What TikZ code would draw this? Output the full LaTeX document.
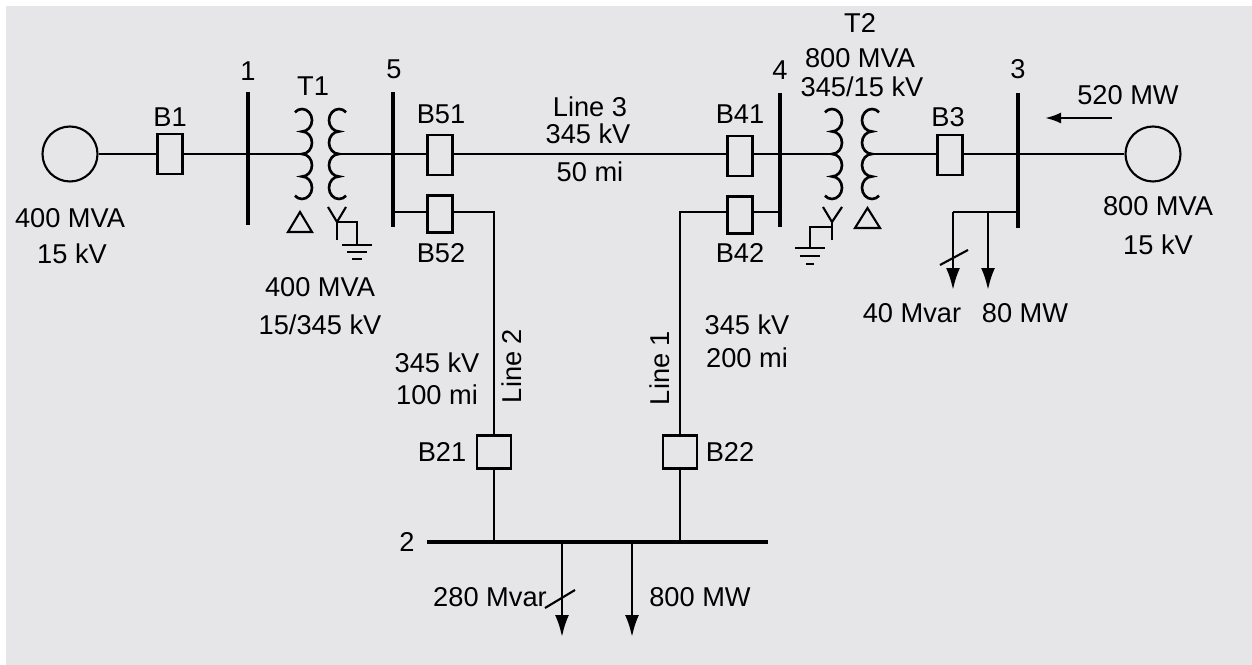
\documentclass[tikz,border=0pt]{standalone}
\usepackage{fontspec}
\setmainfont{Liberation Sans}
\usetikzlibrary{arrows.meta}
\definecolor{bg}{RGB}{230,230,232}
\newcommand\mycoilR[2]{%
  \draw[coil] (#1-7.07,#2+3.3) arc[start angle=135,end angle=-90,x radius=0.2cm,y radius=0.225cm]
    arc[start angle=90,end angle=-90,x radius=0.2cm,y radius=0.225cm]
    arc[start angle=90,end angle=-90,x radius=0.2cm,y radius=0.225cm]
    arc[start angle=90,end angle=-135,x radius=0.2cm,y radius=0.225cm];}
\newcommand\mycoilL[2]{%
  \draw[coil] (#1+7.07,#2+3.3) arc[start angle=45,end angle=270,x radius=0.2cm,y radius=0.225cm]
    arc[start angle=90,end angle=270,x radius=0.2cm,y radius=0.225cm]
    arc[start angle=90,end angle=270,x radius=0.2cm,y radius=0.225cm]
    arc[start angle=90,end angle=315,x radius=0.2cm,y radius=0.225cm];}
\begin{document}
\begin{tikzpicture}[x=0.02cm,y=-0.02cm,
  ln/.style={line width=1.2pt},
  coil/.style={line width=1.5pt},
  busln/.style={line width=1.9pt},
  brk/.style={draw,line width=1.3pt,minimum width=0.5cm,minimum height=0.8cm,inner sep=0pt},
  brkb/.style={draw,line width=1.3pt,minimum width=0.5cm,minimum height=0.74cm,inner sep=0pt},
  brkc/.style={draw,line width=1.3pt,minimum width=0.68cm,minimum height=0.66cm,inner sep=0pt},
  gen/.style={draw,circle,line width=1.2pt,minimum size=1.1cm,inner sep=0pt},
  lbl/.style={font=\fontsize{15.5}{18}\selectfont,inner sep=0pt},
  ld/.style={line width=1.5pt,-{Latex[length=0.44cm,width=0.28cm]}},
  gnd/.style={line width=1.2pt}]
\useasboundingbox (0,0) rectangle (1252,665);
\fill[bg] (6,6) rectangle (1252,665);
% buses
\coordinate (b1t) at (248,92); \coordinate (b1b) at (248,225);
\coordinate (b5t) at (393,92); \coordinate (b5b) at (393,227);
\coordinate (b4t) at (780,93); \coordinate (b4b) at (780,227);
\coordinate (b3t) at (1018,93); \coordinate (b3b) at (1018,228);
\coordinate (b2l) at (427,542); \coordinate (b2r) at (768,542);
\draw[busln] (b1t) -- (b1b);
\draw[busln] (b5t) -- (b5b);
\draw[busln] (b4t) -- (b4b);
\draw[busln] (b3t) -- (b3b);
\draw[busln] (b2l) -- (b2r);
% generators and breakers
\node[gen] (G1) at (70,154) {};
\node[gen] (G2) at (1153,154) {};
\node[brk] (B1) at (170,154) {};
\node[brk] (B51) at (440,155) {};
\node[brkb] (B52) at (440,214) {};
\node[brk] (B41) at (740,156) {};
\node[brkb] (B42) at (740,215) {};
\node[brk] (B3) at (950,155) {};
\node[brkc] (B21) at (494,452) {};
\node[brkc] (B22) at (680,452) {};
% transformers
\coordinate (T1p) at (302,154); \coordinate (T1s) at (339,154);
\coordinate (T2p) at (832,154); \coordinate (T2s) at (872,154);
\mycoilR{302}{109}
\mycoilL{339}{109}
\mycoilR{832}{109}
\mycoilL{872}{109}
% main line
\draw[ln] (G1.east) -- (B1.west);
\draw[ln] (B1.east) -- (T1p);
\draw[ln] (T1s) -- (B51.west |- T1s);
\draw[ln] (B51.east |- T1s) -- (B41.west |- T1s);
\draw[ln] (B41.east |- T1s) -- (T2p);
\draw[ln] (T2s) -- (B3.west |- T2s);
\draw[ln] (B3.east |- T2s) -- (G2.west);
% line 2
\coordinate (b5j) at (393,212); \coordinate (l2c) at (494,212); \coordinate (b2a) at (494,542);
\draw[ln] (b5j) -- (B52.west |- b5j);
\draw[ln] (B52.east |- b5j) -- (l2c) -- (B21.north);
\draw[ln] (B21.south) -- (b2a);
% line 1
\coordinate (b4j) at (780,212); \coordinate (l1c) at (680,212); \coordinate (b2b) at (680,542);
\draw[line width=1.7pt] (b4j) -- (B42.east |- b4j);
\draw[ln] (B42.west |- b4j) -- (l1c) -- (B22.north);
\draw[ln] (B22.south) -- (b2b);
% delta / wye / ground T1
\draw[ln,line join=miter] (288,232) -- (312,232) -- (300,212) -- cycle;
\coordinate (y1j) at (337,222);
\draw[ln] (328,207) -- (y1j) -- (346,207);
\draw[ln] (y1j) -- (337,240);
\coordinate (g1) at (357,245);
\draw[ln] (y1j) -- (357,222) -- (g1);
\draw[gnd] (342,245) -- (372,245); \draw[gnd] (347,252) -- (367,252); \draw[gnd] (352,259) -- (362,259);
% delta / wye / ground T2
\draw[ln,line join=miter] (855,228) -- (880,228) -- (867.5,208) -- cycle;
\coordinate (y2j) at (832,222);
\draw[ln] (823,207) -- (y2j) -- (842,207);
\draw[ln] (y2j) -- (832,240);
\coordinate (g2) at (810,248);
\draw[ln] (832,227) -- (810,227) -- (g2);
\draw[gnd] (795,248) -- (825,248); \draw[gnd] (800,256) -- (820,256); \draw[gnd] (806,264) -- (814,264);
% loads bus 3
\coordinate (b3j) at (1018,212); \coordinate (q3) at (953,212); \coordinate (p3) at (988,212);
\coordinate (q3e) at (953,290); \coordinate (p3e) at (988,290);
\draw[line width=1.5pt] (b3j) -- (q3);
\draw[ld] (q3) -- (q3e);
\draw[ld] (p3) -- (p3e);
\draw[ln] (940,265) -- (968,250);
% loads bus 2
\coordinate (q2) at (562,542); \coordinate (p2) at (632,542);
\coordinate (q2e) at (562,637); \coordinate (p2e) at (632,637);
\draw[ld] (q2) -- (q2e);
\draw[ld] (p2) -- (p2e);
\draw[ln] (545,608) -- (575,590);
% 520 MW arrow
\coordinate (a1) at (1112,118); \coordinate (a2) at (1045,118);
\draw[line width=1.4pt,-{Latex[length=0.32cm,width=0.22cm]}] (a1) -- (a2);
% labels
\node[lbl] (n1) at (248,71) {1};
\node[lbl] (n5) at (394,69) {5};
\node[lbl] (n4) at (780,70) {4};
\node[lbl] (n3) at (1018,69) {3};
\node[lbl] (n2) at (407,542) {2};
\node[lbl] (t1) at (313,86) {T1};
\node[lbl] (lB1) at (170,117) {B1};
\node[lbl] (g1a) at (70,218) {400 MVA};
\node[lbl] (g1b) at (72,254) {15 kV};
\node[lbl] (t1a) at (320,287) {400 MVA};
\node[lbl] (t1b) at (320,325) {15/345 kV};
\node[lbl] (lB51) at (441,114) {B51};
\node[lbl] (lB52) at (441,253) {B52};
\node[lbl] (lB41) at (740,114) {B41};
\node[lbl] (lB42) at (740,253) {B42};
\node[lbl] (l3a) at (590,107) {Line 3};
\node[lbl] (l3b) at (588,134) {345 kV};
\node[lbl] (l3c) at (590,172) {50 mi};
\node[lbl] (t2) at (860,23) {T2};
\node[lbl] (t2a) at (860,58) {800 MVA};
\node[lbl] (t2b) at (862,87) {345/15 kV};
\node[lbl] (lB3) at (948,117) {B3};
\node[lbl] (p520) at (1128,95) {520 MW};
\node[lbl] (g2a) at (1158,206) {800 MVA};
\node[lbl] (g2b) at (1158,245) {15 kV};
\node[lbl] (q40) at (912,313) {40 Mvar};
\node[lbl] (p80) at (1025,313) {80 MW};
\node[lbl] (l2a) at (437,363) {345 kV};
\node[lbl] (l2b) at (437,395) {100 mi};
\node[lbl,rotate=90] (l2n) at (512,366) {Line 2};
\node[lbl] (lB21) at (442,452) {B21};
\node[lbl,rotate=90] (l1n) at (660,368) {Line 1};
\node[lbl] (l1a) at (747,325) {345 kV};
\node[lbl] (l1b) at (747,358) {200 mi};
\node[lbl] (lB22) at (730,452) {B22};
\node[lbl] (q280) at (490,597) {280 Mvar};
\node[lbl] (p800) at (700,597) {800 MW};
\end{tikzpicture}
\end{document}
